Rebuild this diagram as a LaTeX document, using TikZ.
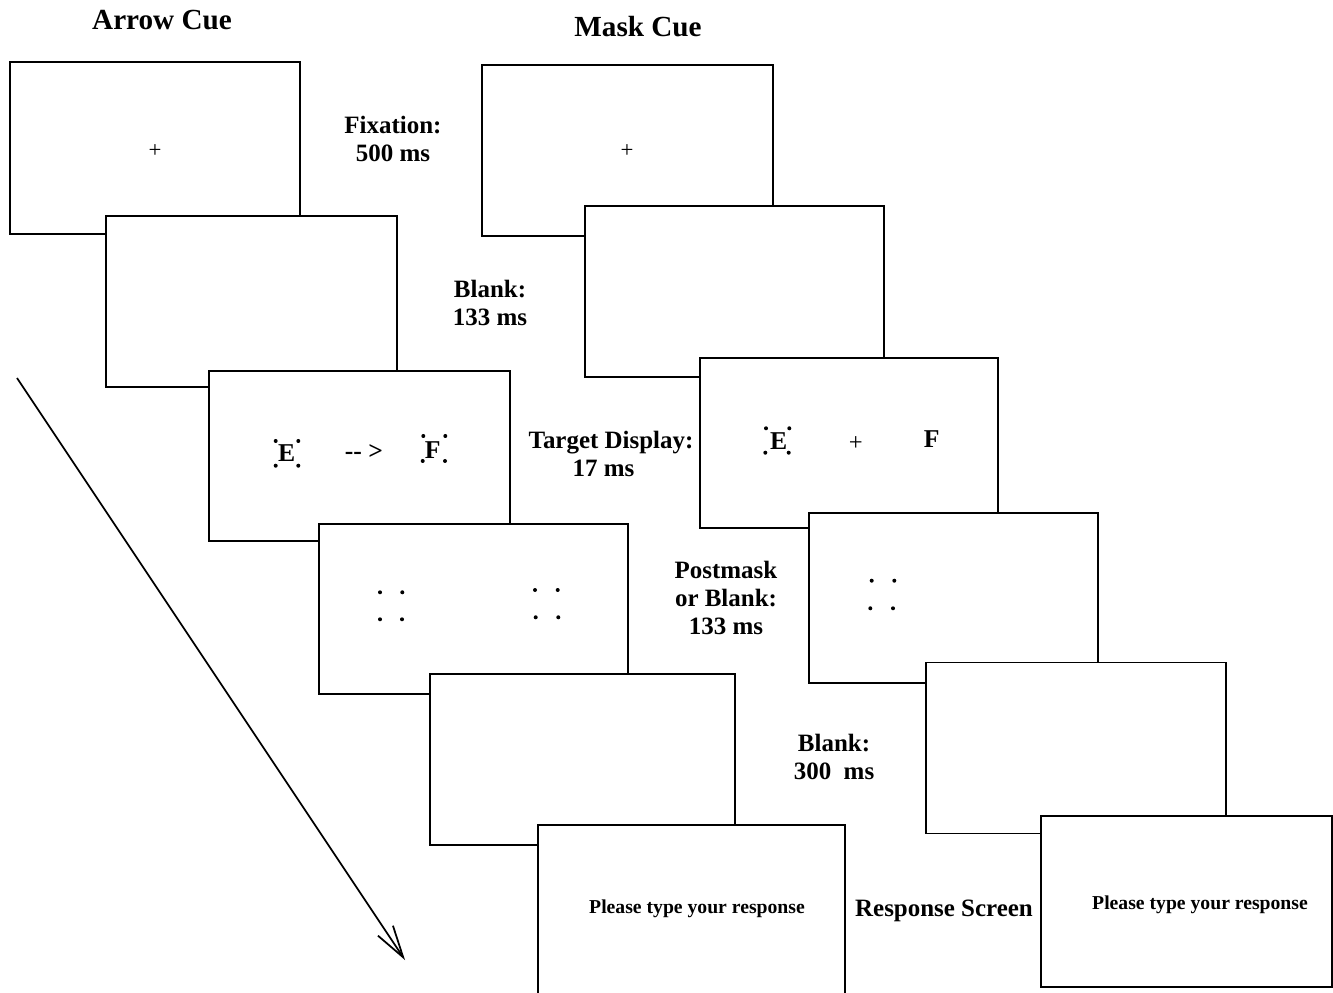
\documentclass[tikz,border=0pt]{standalone}
\usepackage{fontspec}
\setmainfont{Liberation Serif}
\usetikzlibrary{arrows.meta}

\begin{document}
\begin{tikzpicture}[x=0.1mm, y=-0.1mm,
  screen/.style={draw, fill=white, line width=0.5pt, inner sep=0pt, minimum height=17.1mm, minimum width=#1},
  screen/.default=29.1mm,
  title/.style={font=\bfseries\fontsize{8.3}{10}\selectfont},
  lbl/.style={font=\bfseries\fontsize{7.1}{8}\selectfont, align=center},
  letter/.style={font=\bfseries\fontsize{7.3}{8}\selectfont, inner sep=0pt},
  fix/.style={font=\fontsize{6.5}{7}\selectfont, inner sep=0pt},
  dot/.style={circle, fill, inner sep=0pt, minimum size=0.4mm},
  msg/.style={font=\bfseries\fontsize{5.6}{7}\selectfont}]
  \useasboundingbox (0,0) rectangle (1333,993);
  \clip (0,0) rectangle (1333,993);

  % titles
  \node[title] (arrowcue) at (162,20) {Arrow Cue};
  \node[title] (maskcue) at (638,27) {Mask Cue};

  % arrow cue sequence
  \node[screen=29.0mm, minimum height=17.2mm] (a1) at (155,148) {};
  \node[fix] (a1fix) at (155,151) {+};
  \node[screen] (a2) at (251.5,301.5) {};
  \node[screen=30.1mm, minimum height=17.0mm] (a3) at (359.5,456) {};
  \node[letter] (a3e) at (286.7,453) {E};
  \node[letter] (a3arr) at (364,452) {-{}- >};
  \node[letter] (a3f) at (432.7,450) {F};
  \foreach \px/\py in {275.7/441, 298.3/441, 275.7/465.7, 298.3/465.7,
                       423.3/436, 445.3/436, 422.7/461, 445/461}
    \node[dot] at (\px,\py) {};
  \node[screen=30.9mm, minimum height=17.0mm] (a4) at (473.5,609) {};
  \foreach \px/\py in {380/592.3, 402.3/592.3, 380/619.3, 402/619.3,
                       535/590, 557.7/590, 535.7/617.3, 558.3/617.3}
    \node[dot] at (\px,\py) {};
  \node[screen=30.5mm] (a5) at (582.5,759.5) {};
  \node[screen=30.7mm] (a6) at (691.5,910.5) {};
  \node[msg] (a6msg) at (697,909) {Please type your response};

  % mask cue sequence
  \node[screen] (m1) at (627.5,150.5) {};
  \node[fix] (m1fix) at (627,151) {+};
  \node[screen=29.9mm] (m2) at (734.5,291.5) {};
  \node[screen=29.8mm, minimum height=17.0mm] (m3) at (849,443) {};
  \node[letter] (m3e) at (778.7,440.7) {E};
  \node[fix, font=\fontsize{7}{8}\selectfont] (m3fix) at (855.7,443.3) {+};
  \node[letter] (m3f) at (931.7,439) {F};
  \foreach \px/\py in {766/428.3, 789.3/428.3, 765.3/452.7, 788.7/452.7}
    \node[dot] at (\px,\py) {};
  \node[screen=28.9mm, minimum height=17.0mm] (m4) at (953.5,598) {};
  \foreach \px/\py in {871.7/580.7, 894.3/580.7, 870.3/608.3, 893/608.3}
    \node[dot] at (\px,\py) {};
  \node[screen=30.0mm] (m5) at (1076,748) {};
  \node[screen] (m6) at (1186.5,901.5) {};
  \node[msg] (m6msg) at (1200,905) {Please type your response};

  % timing labels
  \node[lbl] (fixation) at (393,139) {Fixation:\\500 ms};
  \node[lbl] (blank1) at (490,303) {Blank:\\133 ms};
  \node[lbl] (target) at (611,454) {Target Display:\\\hspace*{-1.5mm}17 ms};
  \node[lbl] (postmask) at (726,598) {Postmask\\or Blank:\\133 ms};
  \node[lbl] (blank2) at (834,757) {Blank:\\300\ \ ms};
  \node[lbl] (response) at (944,911) {Response Screen};

  % time arrow
  \coordinate (timeS) at (17,378);
  \coordinate (timeE) at (405,960);
  \draw[-{Straight Barb[length=3.2mm, width=1.8mm]}, line width=0.5pt] (timeS) -- (timeE);
\end{tikzpicture}
\end{document}
